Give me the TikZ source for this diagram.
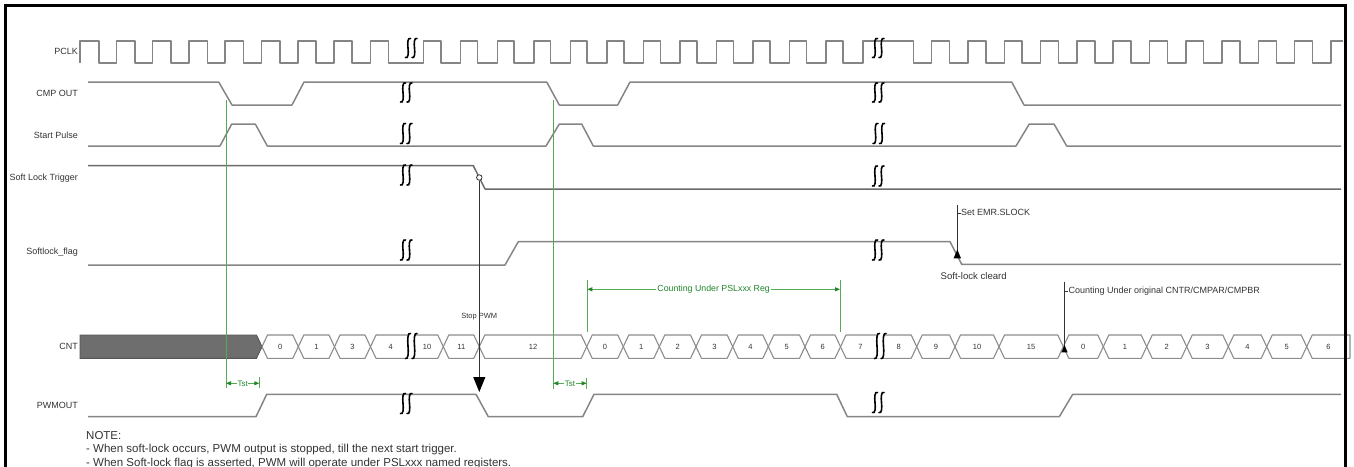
\documentclass[tikz,border=0pt]{standalone}
\usepackage{fontspec}
\setmainfont{Liberation Sans}
\usetikzlibrary{arrows.meta}
\definecolor{sigc}{HTML}{858585}
\definecolor{busc}{HTML}{8C8C8C}
\definecolor{txtc}{HTML}{333333}
\definecolor{glc}{HTML}{55AA55}
\definecolor{gdc}{HTML}{22852A}
\definecolor{blkc}{HTML}{6E6E6E}
\definecolor{blkd}{HTML}{555555}

% break mark: #1 left x, #2 centre y, #3 half height
\newcommand\tbrk[3]{%
 \draw[brk] ({#1+5.5},{#2-#3}) .. controls ({#1+2.7},{#2-#3-1.5}) and ({#1+2.4},{#2-0.5*#3}) .. ({#1+3},{#2}) .. controls ({#1+3.6},{#2+0.5*#3}) and ({#1+3.3},{#2+#3+1.5}) .. ({#1+0.5},{#2+#3});
 \draw[brk] ({#1+12},{#2-#3}) .. controls ({#1+9.2},{#2-#3-1.5}) and ({#1+8.9},{#2-0.5*#3}) .. ({#1+9.5},{#2}) .. controls ({#1+10.1},{#2+0.5*#3}) and ({#1+9.8},{#2+#3+1.5}) .. ({#1+7},{#2+#3});
}
\newcommand\tbrkw[3]{%
 \fill[white] ({#1+5.5},{#2-#3}) .. controls ({#1+2.7},{#2-#3-1.5}) and ({#1+2.4},{#2-0.5*#3}) .. ({#1+3},{#2}) .. controls ({#1+3.6},{#2+0.5*#3}) and ({#1+3.3},{#2+#3+1.5}) .. ({#1+0.5},{#2+#3}) -- ({#1+7},{#2+#3}) .. controls ({#1+9.8},{#2+#3+1.5}) and ({#1+10.1},{#2+0.5*#3}) .. ({#1+9.5},{#2}) .. controls ({#1+8.9},{#2-0.5*#3}) and ({#1+9.2},{#2-#3-1.5}) .. ({#1+12},{#2-#3}) -- cycle;
 \tbrk{#1}{#2}{#3}%
}
% bus cell: #1 name, #2 left x, #3 right x, #4 label, #5 left slope, #6 right slope
\newcommand\cell[6]{%
 \draw[bus] ({#2},346.7) -- ({#2+#5},335) -- ({#3-#6},335) -- ({#3},346.7) -- ({#3-#6},358.3) -- ({#2+#5},358.3) -- cycle;
 \node[num] (#1) at ({(#2+#3)/2},346.7) {#4};
}

\begin{document}
\begin{tikzpicture}[x=1pt,y=-1pt,
  sig/.style={draw=sigc, line width=1.5pt, line join=round},
  bus/.style={draw=busc, line width=1.1pt, line join=round},
  brk/.style={draw=black, line width=1.6pt, line cap=round},
  lbl/.style={anchor=mid east, inner sep=0pt, text=txtc, font=\fontsize{9}{10}\selectfont},
  num/.style={inner sep=0pt, text=txtc, font=\fontsize{7.5}{8}\selectfont},
  note/.style={anchor=base west, inner sep=0pt, text=txtc, font=\fontsize{11.5}{13}\selectfont},
  gline/.style={draw=glc, line width=0.9pt},
  garr/.style={draw=glc, line width=0.9pt, {Triangle[length=5pt,width=4pt,color=gdc]}-{Triangle[length=5pt,width=4pt,color=gdc]}},
  gtxt/.style={text=gdc, fill=white, inner sep=1pt, font=\fontsize{8.8}{10}\selectfont},
  tst/.style={text=gdc, fill=white, inner sep=0.6pt, font=\fontsize{8}{9}\selectfont},
  call/.style={draw=txtc, line width=0.8pt},
  ctxt/.style={text=txtc, inner sep=0pt, font=\fontsize{9}{10}\selectfont},
]
\useasboundingbox (0,0) rectangle (1354,466);

% signal names
\node[lbl] (lpclk) at (78,52.3) {PCLK};
\node[lbl] (lcmp) at (78,93.5) {CMP OUT};
\node[lbl] (lsp) at (78,136) {Start Pulse};
\node[lbl] (lslt) at (78,177.7) {Soft Lock Trigger};
\node[lbl] (lslf) at (78,252.3) {Softlock\_flag};
\node[lbl] (lcnt) at (78,346.7) {CNT};
\node[lbl] (lpwm) at (78,406) {PWMOUT};

% PCLK
\draw[sig] (80,63) -- (80,41)
  \foreach \k in {0,...,7} { -- ({98.8+36.2*\k},41) -- ({98.8+36.2*\k},63) -- ({116.3+36.3*\k},63) -- ({116.3+36.3*\k},41) }
  -- (388.4,41) -- (388.4,63) -- (423.6,63) -- (423.6,41)
  \foreach \k in {0,...,11} { -- ({441+36.55*\k},41) -- ({441+36.55*\k},63) -- ({460.7+36.55*\k},63) -- ({460.7+36.55*\k},41) }
  -- (913.3,41) -- (913.3,63)
  \foreach \k in {0,...,10} { -- ({931.7+36.3*\k},63) -- ({931.7+36.3*\k},41) -- ({949.6+36.3*\k},41) -- ({949.6+36.3*\k},63) }
  -- (1331,63) -- (1331,41) -- (1343,41);

% CMP OUT
\draw[sig] (88,82) -- (218.7,82) -- (232,105) -- (292,105) -- (304,82) -- (546.7,82) -- (559.3,105) -- (617.7,105) -- (630,82) -- (1011.7,82) -- (1024,105) -- (1341,105);

% Start Pulse
\draw[sig] (88,146) -- (220,146) -- (231.7,124) -- (255.3,124) -- (267.3,146) -- (546,146) -- (559.3,124) -- (581.7,124) -- (593.3,146) -- (1016,146) -- (1029.3,124) -- (1054,124) -- (1066.7,146) -- (1341,146);

% Soft Lock Trigger
\draw[sig, draw=sigc!80!black] (88,165.7) -- (473.3,165.7) -- (485,189) -- (1341,189);

% Softlock_flag
\draw[sig] (88,265) -- (505,265) -- (518.3,241.7) -- (950,241.7) -- (961.7,264.3) -- (1341,264.3);

% PWMOUT
\draw[sig] (88,416.7) -- (256,416.7) -- (266.7,394.3) -- (476,394.3) -- (488.3,416.7) -- (582.7,416.7) -- (594,394.3) -- (836.7,394.3) -- (847.3,416.7) -- (1059.3,416.7) -- (1072.7,394.3) -- (1341,394.3);

% CNT bus
\draw[draw=blkd, fill=blkc, line width=0.9pt] (80,335) -- (256.5,335) -- (262,346.7) -- (256.5,358.3) -- (80,358.3) -- cycle;
\cell{n0}{262}{298.3}{0}{5.5}{5.5}
\cell{n1}{298.3}{334.5}{1}{5.5}{5.5}
\cell{n3}{334.5}{370.5}{3}{5.5}{5.5}
\cell{n4}{370.5}{411}{4}{5.5}{0}
\cell{n10}{411}{443.3}{10}{0}{5.5}
\cell{n11}{443.3}{479.3}{11}{5.5}{5.5}
\cell{n12}{479.3}{586.7}{12}{5.5}{5.5}
\cell{m0}{586.7}{623.3}{0}{5.5}{5.5}
\cell{m1}{623.3}{659.3}{1}{5.5}{5.5}
\cell{m2}{659.3}{696}{2}{5.5}{5.5}
\cell{m3}{696}{732.7}{3}{5.5}{5.5}
\cell{m4}{732.7}{768.3}{4}{5.5}{5.5}
\cell{m5}{768.3}{805}{5}{5.5}{5.5}
\cell{m6}{805}{840.5}{6}{5.5}{5.5}
\cell{m7}{840.5}{880.5}{7}{5.5}{0}
\cell{m8}{880.5}{916.7}{8}{0}{5.5}
\cell{m9}{916.7}{955}{9}{5.5}{5.5}
\cell{m10}{955}{999}{10}{5.5}{5.5}
\cell{m15}{999}{1063.3}{15}{5.5}{5.5}
\cell{p0}{1063.3}{1103.3}{0}{5.5}{5.5}
\cell{p1}{1103.3}{1146.7}{1}{5.5}{5.5}
\cell{p2}{1146.7}{1186.7}{2}{5.5}{5.5}
\cell{p3}{1186.7}{1228.3}{3}{5.5}{5.5}
\cell{p4}{1228.3}{1266.7}{4}{5.5}{5.5}
\cell{p5}{1266.7}{1306.7}{5}{5.5}{5.5}
\cell{p6}{1306.7}{1350}{6}{5.5}{0}

% green guide lines
\draw[gline] (226,100) -- (226,388);
\draw[gline] (553.3,100) -- (553.3,389);
\draw[gline] (259.3,377) -- (259.3,388);
\draw[gline] (586.7,378) -- (586.7,389);
\draw[gline] (587.3,280) -- (587.3,331.7);
\draw[gline] (840,280) -- (840,331.7);
\coordinate (t1a) at (226,383.3);
\coordinate (t1b) at (259.3,383.3);
\coordinate (t2a) at (553.3,383.3);
\coordinate (t2b) at (586.7,383.3);
\coordinate (ca) at (587.3,289.3);
\coordinate (cb) at (840,289.3);
\draw[garr] (t1a) -- (t1b) node[midway,tst] (tst1) {Tst};
\draw[garr] (t2a) -- (t2b) node[midway,tst] (tst2) {Tst};
\draw[garr] (ca) -- (cb) node[midway,gtxt] (cnt1) {Counting Under PSLxxx Reg};

% breaks
\tbrk{405}{48}{9.5}
\tbrk{872}{48}{9.5}
\tbrk{400}{92.5}{9.5}
\tbrk{872}{92.5}{9.5}
\tbrk{400}{133.5}{10}
\tbrk{872.5}{133.5}{10}
\tbrk{400}{175}{10}
\tbrk{872}{176}{10}
\tbrk{400}{250}{10}
\tbrk{872}{250}{10}
\tbrkw{405}{346}{12.5}
\tbrkw{874}{346}{12.5}
\tbrk{400}{403.5}{10}
\tbrk{872}{402.5}{10}

% Stop PWM
\node[circle, draw=txtc, fill=white, inner sep=0pt, minimum size=5.5pt, line width=0.8pt] (slt) at (479.3,177.5) {};
\coordinate (stoptip) at (479.3,392);
\draw[call, -{Triangle[length=15pt,width=12pt,color=black]}] (slt.south) -- (stoptip);
\node[ctxt, font=\fontsize{7.5}{8}\selectfont] (stop) at (479.3,316.7) {Stop PWM};

% Set EMR.SLOCK
\coordinate (setTop) at (957.3,205);
\coordinate (setBot) at (957.3,251);
\draw[call] (setTop) -- (setBot);
\fill[black] (957.3,249.5) -- (961,258.3) -- (953.6,258.3) -- cycle;
\draw[call] (957.3,213.3) -- (960.8,213.3);
\node[ctxt, anchor=mid west] (setemr) at (961,213.3) {Set EMR.SLOCK};
\node[ctxt, font=\fontsize{9.6}{11}\selectfont] (clr) at (973.7,276) {Soft-lock cleard};

% Counting under original
\coordinate (orTop) at (1064.5,281.7);
\coordinate (orBot) at (1064.5,347);
\draw[call] (orTop) -- (orBot);
\fill[black] (1064.5,345) -- (1067.6,352.3) -- (1061.4,352.3) -- cycle;
\draw[call] (1064.5,291) -- (1068,291);
\node[ctxt, anchor=mid west] (orig) at (1068.3,291) {Counting Under original CNTR/CMPAR/CMPBR};

% notes
\node[note] (nt0) at (86,439) {NOTE:};
\node[note] (nt1) at (86,452) {- When soft-lock occurs, PWM output is stopped, till the next start trigger.};
\node[note] (nt2) at (86,466) {- When Soft-lock flag is asserted, PWM will operate under PSLxxx named registers.};

% frame
\draw[black, line width=3pt] (5,5) rectangle (1345.5,500);
\end{tikzpicture}
\end{document}
